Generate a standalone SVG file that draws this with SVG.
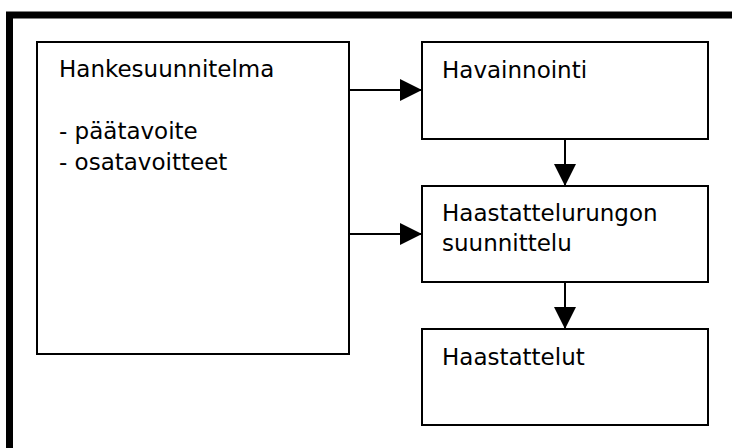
<svg xmlns="http://www.w3.org/2000/svg" width="732" height="448" viewBox="0 0 732 448">
<style>
.box{fill:#fff;stroke:#000;stroke-width:2}
.t{font-family:"DejaVu Sans",Verdana,sans-serif;font-size:23px;fill:#000}
.c{stroke:#000;stroke-width:2;fill:none}
</style>
<defs>
<marker id="ah" markerUnits="userSpaceOnUse" markerWidth="22" markerHeight="22" refX="22" refY="11" orient="auto" viewBox="0 0 22 22">
<path d="M0,0 L22,11 L0,22 Z" fill="#000"/>
</marker>
</defs>
<rect x="0" y="0" width="732" height="448" fill="#fff"/>
<rect id="frame" x="9.5" y="15" width="800" height="500" fill="none" stroke="#000" stroke-width="7"/>
<g id="hankesuunnitelma">
<rect class="box" x="37" y="42" width="312" height="312"/>
<text class="t" x="59" y="77">Hankesuunnitelma</text>
<text class="t" x="59" y="139">- päätavoite</text>
<text class="t" x="59" y="170">- osatavoitteet</text>
</g>
<g id="havainnointi">
<rect class="box" x="422" y="42" width="286" height="97"/>
<text class="t" x="442" y="78">Havainnointi</text>
</g>
<g id="haastattelurungon">
<rect class="box" x="422" y="186" width="286" height="96"/>
<text class="t" x="442" y="221">Haastattelurungon</text>
<text class="t" x="442" y="251">suunnittelu</text>
</g>
<g id="haastattelut">
<rect class="box" x="422" y="329" width="286" height="96"/>
<text class="t" x="442" y="365">Haastattelut</text>
</g>
<g id="connectors">
<line class="c" x1="349" y1="90" x2="422" y2="90" marker-end="url(#ah)"/>
<line class="c" x1="349" y1="234" x2="422" y2="234" marker-end="url(#ah)"/>
<line class="c" x1="565" y1="139" x2="565" y2="186" marker-end="url(#ah)"/>
<line class="c" x1="565" y1="282" x2="565" y2="329" marker-end="url(#ah)"/>
</g>
</svg>
